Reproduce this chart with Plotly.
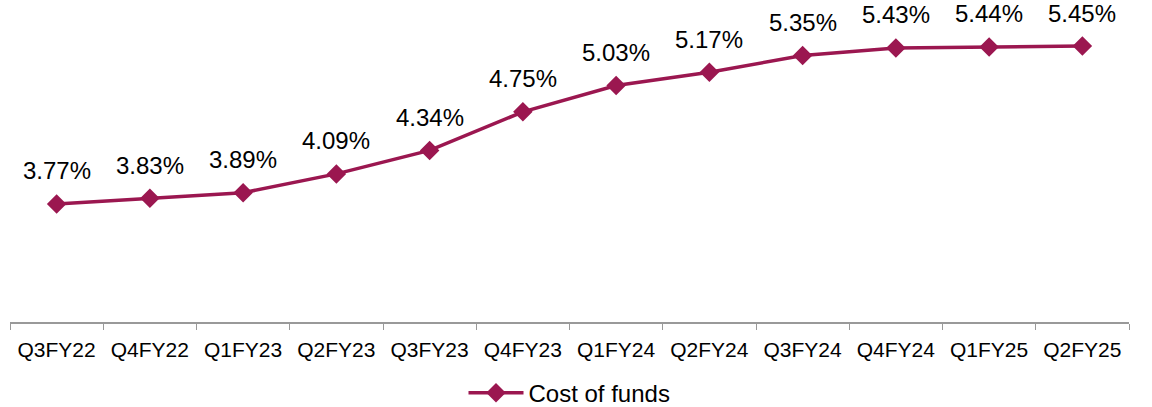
import plotly.graph_objects as go

quarters = ["Q3FY22", "Q4FY22", "Q1FY23", "Q2FY23", "Q3FY23", "Q4FY23",
            "Q1FY24", "Q2FY24", "Q3FY24", "Q4FY24", "Q1FY25", "Q2FY25"]
cost_of_funds = [3.77, 3.83, 3.89, 4.09, 4.34, 4.75,
                 5.03, 5.17, 5.35, 5.43, 5.44, 5.45]

line_color = "#9B1750"
font_family = "Liberation Sans, Arial, sans-serif"

fig = go.Figure()
fig.add_trace(go.Scatter(
    x=quarters,
    y=cost_of_funds,
    mode="lines+markers",
    name="Cost of funds",
    line=dict(color=line_color, width=3.5),
    marker=dict(symbol="diamond", size=15, color=line_color),
))

# value labels above each point
for q, v in zip(quarters, cost_of_funds):
    fig.add_annotation(
        x=q, y=v, text=f"{v:.2f}%",
        showarrow=False, yshift=33,
        font=dict(family=font_family, size=24, color="black"),
    )

fig.update_layout(
    width=1152, height=407,
    paper_bgcolor="white", plot_bgcolor="white",
    margin=dict(l=10, r=23, t=2, b=85),
    font=dict(family=font_family, size=21, color="black"),
    showlegend=True,
    legend=dict(orientation="h", x=0.5, xanchor="center",
                yref="container", y=0.034, yanchor="middle",
                font=dict(size=24), itemwidth=55),
    xaxis=dict(
        range=[-0.5, 11.5],
        showline=True, linecolor="#999999", linewidth=1.5,
        ticks="outside", tickson="boundaries", ticklen=6, tickcolor="#999999",
        showgrid=False, tickfont=dict(size=21), ticklabelstandoff=8,
    ),
    yaxis=dict(range=[2.515, 5.918], visible=False, showgrid=False),
)

# the default page has an 8px body margin; drop it so the figure fills the window
fig.write_html("out.html", config={"displayModeBar": False},
               post_script="document.body.style.margin = '0';")
